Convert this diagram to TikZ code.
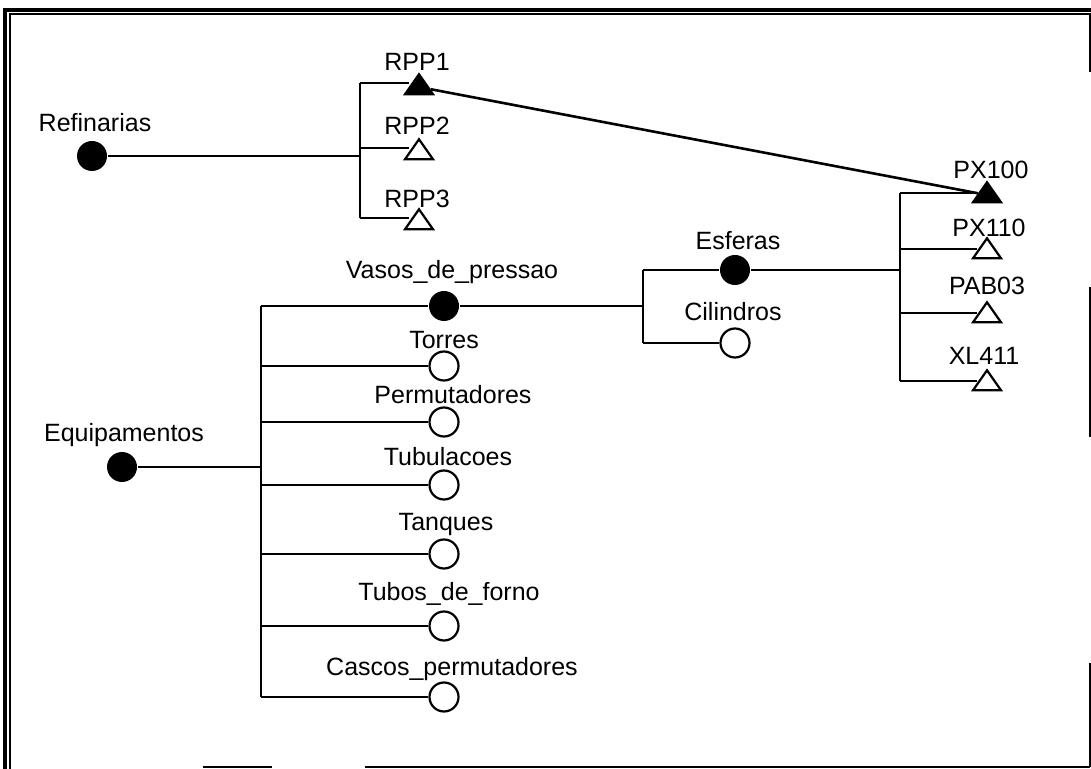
\documentclass[tikz,border=0pt]{standalone}
\usepackage{fontspec}
\setmainfont{Liberation Sans}
\usetikzlibrary{shapes.geometric}

\begin{document}
\begin{tikzpicture}[x=.5pt,y=-.5pt,line width=1.3pt,
  every node/.style={inner sep=0pt},
  dot/.style={circle,fill=black,minimum size=15pt},
  ring/.style={circle,draw,line width=1.1pt,fill=white,minimum size=14.5pt},
  tri/.style={isosceles triangle,isosceles triangle apex angle=70,shape border rotate=90,draw,line width=1.1pt,minimum width=14pt},
  trifill/.style={tri,fill=black},
  lbl/.style={font=\fontsize{12.5}{14}\selectfont,text height=8.9pt,text depth=0pt}]
 \useasboundingbox (0,0) rectangle (1091,769);
 % frame
 \draw[line width=2.2pt] (5,769) -- (5,10) -- (1091,10);
 \draw[line width=.6pt] (10,769) -- (10,14) -- (1090,14) -- (1090,72);
 \draw[line width=.8pt] (1090,287) -- (1090,437) (1090,663) -- (1090,767);
 \draw[line width=.8pt] (203,767) -- (272,767) (365,767) -- (1090,767);
 % refinarias
 \node[dot] (ref) at (92,156) {};
 \node[lbl] (lref) at (95,123) {Refinarias};
 \coordinate (refB) at (360,156);
 \node[trifill] (rpp1) at (419,87) {};
 \node[lbl] (lrpp1) at (417,62) {RPP1};
 \node[tri] (rpp2) at (419,152) {};
 \node[lbl] (lrpp2) at (417,126) {RPP2};
 \node[tri] (rpp3) at (419,222) {};
 \node[lbl] (lrpp3) at (417,199) {RPP3};
 \foreach \n in {rpp1,rpp2,rpp3}
  \coordinate (b\n) at ([yshift=2pt]\n.west);
 \draw (ref) -- (refB);
 \draw (refB |- brpp1) -- (refB |- brpp3);
 \foreach \n in {rpp1,rpp2,rpp3}
  \draw (refB |- b\n) -- (b\n);
 % equipamentos
 \node[dot] (equ) at (122,467) {};
 \node[lbl] (lequ) at (124,433) {Equipamentos};
 \coordinate (equB) at (261,467);
 \node[dot] (vas) at (444,306) {};
 \node[lbl] (lvas) at (452,270) {Vasos\_de\_pressao};
 \foreach \n/\y/\t/\lx/\ly in {tor/366/Torres/444/340,per/422/Permutadores/453/395,tub/485/Tubulacoes/448/457,
   tan/554/Tanques/446/522,tfo/626/Tubos\_de\_forno/449/592,cas/697/Cascos\_permutadores/452/667}{
  \node[ring] (\n) at (444,\y) {};
  \node[lbl] (l\n) at (\lx,\ly) {\t};}
 \draw (equ) -- (equB);
 \draw (equB |- vas) -- (equB |- cas);
 \foreach \n in {vas,tor,per,tub,tan,tfo,cas}
  \draw (equB |- \n) -- (\n);
 % vasos de pressao
 \node[dot] (esf) at (735,270) {};
 \node[lbl] (lesf) at (738,241) {Esferas};
 \node[ring] (cil) at (735,343) {};
 \node[lbl] (lcil) at (733,312) {Cilindros};
 \coordinate (vasB) at (643,306);
 \draw (vas) -- (vasB);
 \draw (vasB |- esf) -- (vasB |- cil);
 \draw (vasB |- esf) -- (esf);
 \draw (vasB |- cil) -- (cil);
 % esferas
 \node[trifill] (px100) at (987,195) {};
 \node[lbl] (lpx100) at (991,170) {PX100};
 \foreach \n/\y/\t/\lx/\ly in {px110/251/PX110/989/228,pab03/315/PAB03/987/286,xl411/383/XL411/984/356}{
  \node[tri] (\n) at (987,\y) {};
  \node[lbl] (l\n) at (\lx,\ly) {\t};}
 \foreach \n in {px100,px110,pab03,xl411}
  \coordinate (b\n) at ([yshift=1pt]\n.west);
 \coordinate (esfB) at (900,270);
 \draw (esf) -- (esfB);
 \draw (esfB |- bpx100) -- (esfB |- bxl411);
 \foreach \n in {px100,px110,pab03,xl411}
  \draw (esfB |- b\n) -- (b\n);
 \draw (rpp1) -- (px100);
\end{tikzpicture}
\end{document}
